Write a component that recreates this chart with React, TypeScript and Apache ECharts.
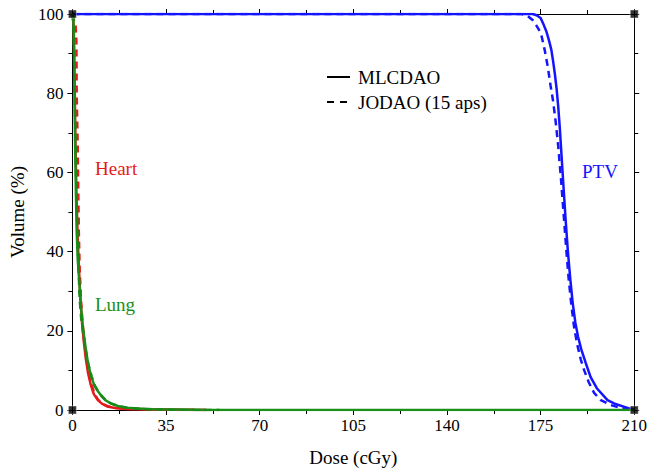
import React, { useEffect, useRef } from "react";
import * as echarts from "echarts";

const FONT = "'Liberation Serif', 'Times New Roman', serif";

const xTicks = { min: 0, max: 210, interval: 35 };
const yTicks = { min: 0, max: 100, interval: 20 };

const ptvSolid: number[][] = [
  [0, 100], [172, 100], [173.5, 99.7], [175, 99], [176.2, 97.2], [177.2, 95.5], [178.1, 93.4],
  [179, 91], [179.6, 88.4], [180.3, 85], [181, 81], [181.6, 76.5], [182.2, 71], [182.8, 64.5],
  [183.5, 57], [184.3, 48.5], [185.2, 40], [186.1, 33], [187, 27], [188, 22], [189, 18.5],
  [190.2, 15.3], [191.8, 12], [193.7, 8.3], [196, 5.5], [200, 2.5], [203, 1.5], [206.3, 0.8], [210, 0],
];
const ptvDashed: number[][] = [
  [0, 100], [168, 100], [170, 99.6], [172, 98.5], [173.5, 97], [175.1, 95.2], [176.5, 91],
  [177.7, 86.6], [178.7, 82], [179.6, 78.3], [180.6, 73], [181.6, 66.5], [182.6, 58.5],
  [183.6, 49.5], [184.6, 40.5], [185.5, 33], [186.5, 26.5], [187.5, 21], [188.7, 16.5],
  [190, 12.8], [191.3, 10], [193, 7], [195, 4.3], [197.5, 2.5], [201, 1.3], [205, 0.5], [210, 0],
];
const heartSolid: number[][] = [
  [0, 100], [0.5, 97], [0.8, 85], [1.1, 70], [1.5, 55], [2, 43], [2.5, 35], [3, 28], [3.6, 22],
  [4.3, 17], [5, 13], [5.8, 9.5], [6.8, 6.5], [8, 4], [9.5, 2.5], [11, 1.6], [13, 0.9], [16, 0.5],
  [20, 0.25], [30, 0.1], [45, 0.02], [50, 0],
];
const heartDashed: number[][] = [
  [0, 100], [1.2, 97], [1.5, 93], [1.6, 80], [2, 66], [2.2, 55], [2.4, 45], [2.7, 36], [3.2, 28],
  [3.8, 22], [4.5, 17], [5.2, 13], [6, 9.8], [7, 6.8], [8.2, 4.2], [9.5, 2.7], [11, 1.7], [13, 1],
  [16, 0.5], [20, 0.3], [30, 0.15], [45, 0.05], [50, 0],
];
const lungSolid: number[][] = [
  [0, 100], [0.4, 99], [0.6, 90], [0.8, 80], [1, 68], [1.3, 55], [1.6, 45], [2, 38], [2.6, 32],
  [3.2, 26], [4, 20.5], [5, 15.5], [5.8, 12], [7, 8.5], [8.2, 6.2], [9.5, 4.8], [11, 3.4],
  [12.5, 2.4], [14.5, 1.6], [17, 1], [20, 0.6], [25, 0.35], [30, 0.2], [40, 0.1], [50, 0.03],
  [60, 0], [210, 0],
];
const lungDashed: number[][] = [
  [0, 100], [0.5, 97], [0.8, 85], [1.1, 70], [1.5, 55], [1.9, 45], [2.3, 36], [2.7, 28], [3.3, 23],
  [4.1, 19], [5, 15], [6, 11.5], [7.2, 8.5], [8.5, 6], [10, 4.3], [12, 2.8], [14, 1.8], [17, 1],
  [21, 0.5], [27, 0.25], [35, 0.1], [45, 0.03], [55, 0],
];
const corners: number[][] = [[0, 0], [0, 100], [210, 0], [210, 100]];
const legendNames = ["MLCDAO", "JODAO (15 aps)"];

const BLUE = "#1414ff";
const RED = "#e41b1b";
const GREEN = "#1a8f1a";

export default function App() {
  const ref = useRef<HTMLDivElement>(null);
  useEffect(() => {
    if (!ref.current) return;
    document.body.style.margin = "0";
    const chart = echarts.init(ref.current, undefined, { renderer: "svg" });
    const line = (name: string, data: number[][], color: string, dashed: boolean, z: number) => ({
      type: "line",
      name,
      data,
      symbol: "none",
      showSymbol: false,
      z,
      lineStyle: { color, width: 2.5, type: dashed ? [7, 5] : "solid" },
      itemStyle: { color },
    });
    const axisCommon = {
      axisLine: { show: true, onZero: false, lineStyle: { color: "#000", width: 1 } },
      axisTick: { show: true, length: 5, lineStyle: { color: "#000" } },
      minorTick: { show: true, splitNumber: 2, length: 4, lineStyle: { color: "#000" } },
      splitLine: { show: false },
    };
    const tickStyle = { fontFamily: FONT, fontSize: 17, color: "#000" };
    const nameStyle = { fontFamily: FONT, fontSize: 19, color: "#000" };
    const font19 = `19px ${FONT}`;
    chart.setOption({
      animation: false,
      backgroundColor: "#fff",
      grid: { left: 71, right: 13, top: 14, bottom: 63, containLabel: false },
      xAxis: [
        {
          type: "value", ...xTicks, position: "bottom", ...axisCommon,
          axisLabel: { ...tickStyle, margin: 7 },
          name: "Dose (cGy)", nameLocation: "middle", nameGap: 38,
          nameTextStyle: { ...nameStyle },
        },
        {
          type: "value", ...xTicks, position: "top", ...axisCommon,
          axisLabel: { show: false },
        },
      ],
      yAxis: [
        {
          type: "value", ...yTicks, position: "left", ...axisCommon,
          axisLabel: { ...tickStyle, margin: 9 },
          name: "Volume (%)", nameLocation: "middle", nameGap: 42,
          nameTextStyle: { ...nameStyle },
        },
        {
          type: "value", ...yTicks, position: "right", ...axisCommon,
          axisLabel: { show: false },
        },
      ],
      graphic: [
        { type: "line", shape: { x1: 327, y1: 77, x2: 350, y2: 77 }, style: { stroke: "#000", lineWidth: 2 } },
        { type: "line", shape: { x1: 327, y1: 102, x2: 350, y2: 102 }, style: { stroke: "#000", lineWidth: 2, lineDash: [7, 6] } },
        { type: "text", x: 358, y: 77, style: { text: legendNames[0], fill: "#000", font: font19, verticalAlign: "middle" } },
        { type: "text", x: 358, y: 102, style: { text: legendNames[1], fill: "#000", font: font19, verticalAlign: "middle" } },
        { type: "text", x: 95, y: 168, style: { text: "Heart", fill: RED, font: font19, verticalAlign: "middle" } },
        { type: "text", x: 95, y: 304, style: { text: "Lung", fill: GREEN, font: font19, verticalAlign: "middle" } },
        { type: "text", x: 582, y: 171, style: { text: "PTV", fill: BLUE, font: font19, verticalAlign: "middle" } },
      ],
      series: [
        line("PTV MLCDAO", ptvSolid, BLUE, false, 2),
        line("PTV JODAO", ptvDashed, BLUE, true, 2),
        line("Heart MLCDAO", heartSolid, RED, false, 3),
        line("Heart JODAO", heartDashed, RED, true, 3),
        line("Lung MLCDAO", lungSolid, GREEN, false, 4),
        line("Lung JODAO", lungDashed, "#178a17", true, 4),
        {
          type: "scatter",
          data: corners,
          symbol: "rect",
          symbolSize: 8,
          clip: false,
          z: 10,
          itemStyle: { color: "#000", borderColor: "#fff", borderWidth: 0.5 },
          silent: true,
        },
      ],
    });
    return () => chart.dispose();
  }, []);
  return <div ref={ref} style={{ width: 650, height: 473 }} />;
}
